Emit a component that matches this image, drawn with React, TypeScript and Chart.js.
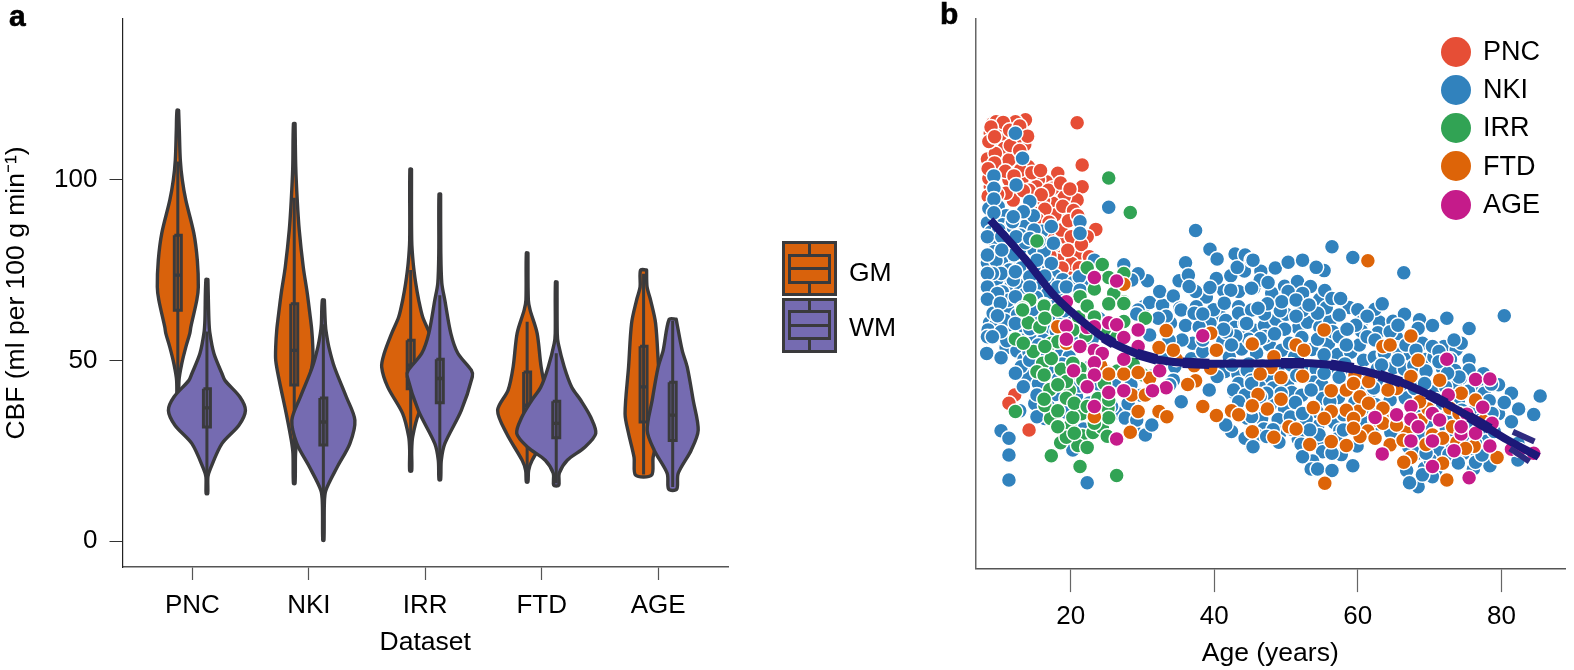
import React, { useEffect, useRef } from "react";
import { Chart, registerables } from "chart.js";

Chart.register(...registerables);

const FONT = "'Liberation Sans', Arial, sans-serif";
const INK = "#3a3a3c";
const GM_COLOR = "#d9620c";
const WM_COLOR = "#756bb1";

const categories = ["PNC", "NKI", "IRR", "FTD", "AGE"];
const matter = ["GM", "WM"];
const yTickValues = [0, 50, 100];
const ageTickValues = [20, 40, 60, 80];

// violin profiles: CBF level and half-width of density
const pncGmCbf = [119.2, 113.7, 105.4, 99.9, 94.3, 85.2, 77.7, 70.3, 66.7, 59.2, 57.5, 53.7, 49.2, 44.5, 36.2];
const pncGmDensity = [0.8, 1.5, 2.5, 4.5, 8, 16, 19.5, 20.5, 19, 13, 12, 8, 4, 1.2, 0.8];
const pncWmCbf = [72.4, 61.1, 57.5, 51.9, 46.4, 44.5, 39.9, 36.2, 32.1, 27, 20.1, 17.8, 13.2];
const pncWmDensity = [1, 2, 3, 7, 15, 18, 33, 38.5, 32, 15, 3.5, 1, 0.8];
const nkiGmCbf = [115.5, 103.5, 94.3, 86, 75.8, 68.6, 62, 58.4, 54, 50, 44.5, 35.3, 28, 24.3, 16];
const nkiGmDensity = [0.8, 1.5, 3, 5, 9, 13, 16, 17.5, 18.5, 18.5, 15, 8, 3, 1.3, 0.8];
const nkiWmCbf = [66.7, 60, 57.5, 53.7, 48.2, 39.9, 33.5, 27, 20.6, 14.1, 10.4, 0.3];
const nkiWmDensity = [1, 2, 3, 5.5, 11, 23, 31.5, 26.5, 14, 2.5, 1, 0.6];
const irrGmCbf = [102.9, 83.3, 76.9, 71.4, 66.7, 62, 57.5, 51.9, 48.2, 42.7, 35.3, 28.9, 25, 19.5];
const irrGmDensity = [0.8, 1, 2.5, 5, 8, 12, 19, 26.5, 29, 23, 8, 2, 1, 1];
const irrWmCbf = [96, 80, 71.4, 66.7, 57.5, 52, 47.3, 45.5, 36.2, 27, 22.4, 17];
const irrWmDensity = [0.8, 1, 2, 5, 11, 18, 31.5, 32.5, 21.5, 5, 1.5, 0.8];
const ftdGmCbf = [79.7, 66.7, 63.9, 57.5, 48.2, 41.8, 36.2, 29.8, 22.4, 19.6, 16.4];
const ftdGmDensity = [0.8, 1.2, 3, 10, 14, 19, 29.5, 20.5, 5, 1.5, 0.8];
const ftdWmCbf = [71.7, 57.5, 54.7, 48.2, 42.6, 39, 34.3, 29.8, 26, 22.4, 18.8, 15.5];
const ftdWmDensity = [0.8, 1, 2, 8, 15.5, 24.5, 34.5, 39.5, 28.5, 11, 3, 2.5];
const ageGmCbf = [75, 70.3, 66.7, 60.3, 48.2, 35.3, 29.8, 23.2, 18.3];
const ageGmDensity = [3, 3.5, 7, 12, 15, 18.5, 15, 9.5, 8];
const ageWmCbf = [61.4, 52.8, 48.2, 39, 30.7, 25.2, 18.8, 14.4];
const ageWmDensity = [3.5, 9.5, 14.5, 20.5, 25.5, 18.5, 5.5, 4];

const gmQ1 = [63.9, 43.2, 42.2, 32.1, 33];
const gmMedian = [73.6, 52.8, 48.7, 37.6, 42.7];
const gmQ3 = [84.6, 65.7, 55.6, 46.8, 53.9];
const gmWhiskerLow = [42, 16, 22, 17, 18.5];
const gmWhiskerHigh = [105, 95, 75, 60.7, 74];
const wmQ1 = [31.6, 26.6, 38.3, 28.6, 27.9];
const wmMedian = [36.9, 33, 45, 32.6, 34.9];
const wmQ3 = [42.2, 39.6, 50.3, 38.7, 44];
const wmWhiskerLow = [16, 7, 20, 16, 15];
const wmWhiskerHigh = [58, 60, 68, 52, 61];

// scatter: [age in years, CBF]
const pncPoints = [
  [13.7,116.5],[20.9,115.7],[9.1,115.5],[9.8,114.2],[12.3,116],[8.8,112.8],[10.2,111],[10.7,108.6],[13.6,109.6],[8.4,105.7],
  [10.4,104],[14.1,103.6],[18.2,101.7],[16.6,99.4],[21.6,104],[21.6,98],[20.9,94.3],[19.1,95.2],[17.5,97.6],[18.4,90.5],
  [17.5,93.4],[15.5,90.7],[23.5,86.2],[19.1,82.8],[20.3,79.1],[18.2,80.5],[19.4,74.5],[15.5,99.9],[13.6,101.7],[12,94.3],
  [8.8,98],[8.6,100.3],[11.4,99.9],[13.2,99.9],[15,87],[22.3,84.2],[21.2,79.6],[12.3,111],[9.5,107.2],[11.4,105.4],
  [13,102.6],[15.2,98],[16.2,94.3],[17.8,90.2],[16.8,84.2],[18.7,86],[20.1,84.2],[18.2,77.7],[20.1,76.8],[12.2,40.4],
  [11.4,38.1],[14.2,30.7],
  [9.6,116],[10.6,115.8],[8.9,114.5],[11.5,113.6],[12.9,114.8],[8.6,110.5],[9.4,111.8],[11.6,109.4],[12.9,108],[14,112],[9.4,104.6],[8.5,103],[10.9,102.3],[12.1,101],
  [14.6,101.9],[15.8,102.5],[16.9,97],[18.6,99],[19.9,97.4],[14.2,97],[15.9,95.8],[18.9,92.6],[20.4,91.4],[16.4,91.8],[15.4,88.9],[17,88.2],[19.7,88.6],[21,90],
  [16.1,82.4],[17.6,81.9],[19.6,80.4],[21.5,82],[17.1,79],[15.8,78],[22.6,78.6],[21.2,75.6],[18.8,75.5],[16.8,76],[13.4,96.9],[11,96.2],[9.8,95.9],[8.5,95.4],
];
const nkiPoints = [
  [8.6,92],[9.9,92.5],[11,90],[10.5,87.5],[8.9,87.3],[11.5,86.5],[13.6,87],[14.8,90],[16,85.7],[9.6,82],[11.3,81.5],[12.9,80.8],[14.9,80.5],[16.3,80.2],
  [8.9,76.9],[10.9,77],[12.4,77.6],[13.8,76.8],[15.7,74.6],[17.8,73.4],[8.8,71.6],[10.9,71.4],[11.6,70.2],[13,70.7],[15.4,70],[16.8,68.5],[18.5,66.8],
  [9.4,64.3],[11.2,64.6],[13.8,62.8],[15,60.3],[16.9,58.6],[18.6,60.9],[20.2,62.4],[21.6,60.3],[8.7,60.4],[9.5,59.6],[11.5,59.9],[12.9,57.8],[14.8,55.2],
  [16.2,55.6],[18,52.5],[19.8,51],[21.3,54.4],[23,55.9],[11,53.5],[12.5,52.6],[13.5,50.2],[15.8,48.4],[17,46.6],[13.9,46.9],[16.7,42],[17.8,40.5],[20.8,40],
  [22.6,38.2],[24.1,36.9],[26.5,35.5],[28,38],[19.3,35.7],[21.8,31],[16,39],[17,37],[12.9,36],[15,38],[14,45.5],
  [8.4,88],[8.9,85.5],[10,86],[11.9,88.3],[13,84.6],[14.9,86],[9.3,80],[11.2,83.2],[12.1,79.2],[13.7,82.5],[15.6,82.9],[17.6,82.4],[8.4,77],[9.6,77.5],[11.5,75],
  [13.1,75.5],[14.9,75.8],[16.8,71.8],[18.9,72.3],[20.4,71.5],[22.4,72],[9.7,72.3],[12,72.2],[13.6,68.2],[15.2,67.4],[10.5,68.9],[8.8,68.2],[11.3,66.6],[13,66.3],
  [17.4,64.7],[19.1,63.7],[9.2,63],[12.6,62.6],[14.7,64],[16.9,61.9],[18,58],[20.4,57.1],[22,57.3],[24,61.5],[10.8,61.1],[8.5,58.4],[11.1,55.4],[13.2,59.6],[14.2,52.2],
  [16.8,51.7],[18.8,49],[20.9,45.3],[22.5,48],[24.6,47.5],[26.1,44.3],[28.4,43.2],[13.1,48.2],[15.5,43.5],[18.3,44.8],[21.2,42.9],[24,43.2],[25.7,37.2],[27.6,34],
  [28.8,31],[23.7,33],[29.8,40.3],[31.2,45.6],[33,50.2],[31,57],[30.2,64.9],[31,66],[32.8,65.2],[33.9,60.3],[36,59.6],[37,54.7],[35.5,55.6],[36.8,50.4],[33.7,55.5],
  [40.7,62.6],[39.4,60.2],[37.9,59.2],[39.9,64],[41.3,69.3],[38.9,67.5],[40.3,72.6],[42.3,73.4],[44.2,74.7],[35.1,72],[42.9,79.4],[36,77],[30.7,72],
  [41.6,61],[42.9,59.1],[44.2,57.6],[45.6,58.3],[47,59.6],[48.6,61.3],[50,62.7],[51.7,58.9],[53,60.5],[54.7,59.2],[56.1,60.7],[41.2,55.3],[43.8,53.1],[45.9,52],
  [47.7,54.2],[49.4,52.8],[51.2,51],[53.6,53],[55.9,54.6],[57.2,51.6],[59,52.2],[60.2,54.2],[42.1,50.9],[44.8,49],[46.7,48.4],[48.9,47.6],[50.7,48.7],[52.7,48.4],
  [54.2,47.6],[56.6,48.2],[58.2,49],[60.8,50],[62.3,50.8],[41.5,46.9],[43.3,46.2],[44.6,47.2],[47.8,44.5],[50.2,43.3],[51.5,45.8],[53.9,44],[55,43.2],[57.4,45.3],
  [59.3,46.9],[61,46.2],[63,45.1],[42.8,41],[44.7,41.6],[46.3,42.7],[48.2,42.3],[50.8,41.1],[52.2,40.3],[55.1,39.4],[57.3,39.7],[59.6,38.4],[61.7,41],[44,37.5],
  [46.1,36.6],[47.8,37.6],[49.8,36.6],[51.3,38.3],[53.8,37],[56.7,32.8],[46.6,33.9],[48.9,33.6],[50.6,34.3],[54.4,31.7],[57.5,30.6],[61,32.9],[44.6,34],[49.2,30],
  [51.7,28.2],[46.9,31],[54.8,27],
  [43.2,75.7],[46.5,74.6],[48.5,75.5],[48,68.6],[49.8,70.5],[51.6,71.8],[53.4,70.4],[50.3,69],[52.3,68.5],[54.7,66.9],[58.8,64.6],[60,64],[47,62.8],[49.2,63.7],[52.3,63.8],
  [55.6,64.5],[56.5,57.9],[49.8,58.6],[52.2,56.3],[47.1,56.6],[44.8,55.8],[43,56.7],[41.7,57.8],[60.5,60.6],[63,60.6],[64.9,60.8],[66.5,62.7],[68.6,61.2],[60.5,58.1],
  [62.8,57.6],[65.4,56.3],[67.8,56.8],[69,54.7],[63.6,51.7],[65.5,53.3],[67.3,51.6],[69.4,50.2],[72,53.8],[73.7,53],[72.9,49],[71.8,47.7],[77.5,46.3],[76.9,42.7],[75.4,41.4],
  [77.6,40.9],[63.5,43.4],[62.2,42.3],[60,41.8],[66.6,39.6],[64.5,39],[62.5,37.7],[60.6,36.4],[58,34.9],[56.1,38.6],[54.3,35.8],[52.8,33.7],[50.8,30.9],[48.2,30.8],[45.9,29.3],
  [49,27.3],[52.1,26.8],[54.6,29.4],[57.1,28.2],[59.9,26.3],[55.1,24.7],[53.7,22.1],[57.7,23.9],[62.6,32.3],[64.7,34.5],[66.9,33],[68,30],[69.6,32.6],[72.3,31.5],[72.5,34.6],
  [74,38.6],[76,35.7],[78,36.3],[79.6,35.2],[76.9,30.6],[74.8,28.2],[72.6,28.7],[71.2,27],[74.7,24.2],[76.1,19.9],[70.9,19.7],[69.3,20.1],[66.8,19.5],
  [63.7,52],[65,48],[66.5,47.5],[67.8,48.5],[69.5,47],[70.6,50.9],[72.9,50.3],[62.7,47.6],[66.1,43.4],[67.9,42.2],[70.5,41.3],[73.5,47.2],[71,39],[68.6,35.8],
  [66,31],[64.6,30],[67.1,26],[69,28.6],[71.3,24.8],[72.7,24],[70.1,22.4],[68.3,24.3],[74,21.6],[76.6,24.4],[77.9,27.6],[73.2,26.8],[75.1,32.5],[77.1,33.5],[78.3,38.8],[79,30.3],
  [12.3,112.8],[13.3,105.9],[9.3,101],[12.4,98.5],[9.3,97.6],[9.3,94.6],[14.3,93.9],[9.3,90.8],[13.4,91.1],[12,89.7],[21.3,88.3],[21.3,85.1],[17.3,87],[25.3,92.3],
  [8.4,84.2],[12.4,84.2],[10.4,84.2],[14.3,83.7],[8.4,79.1],[10.4,80.5],[15.3,77.7],[17.3,76.8],[10.3,74],[9.1,74],[8.4,74],[12.3,74.5],[16.4,73.3],[14.3,73.1],
  [8.4,70.3],[9.8,68.5],[12.3,67.6],[8.4,66.9],[10.2,65.8],[14.3,70.3],[18.2,70.3],[19.4,70.3],[21.2,73.1],[23.3,77.7],[27.4,76.4],[29.4,73.9],[28.5,72.2],[21.3,69.4],
  [32.4,69],[34.3,67.8],[36.4,73.6],[37.4,69],[39.4,70.1],[37.4,85.9],[39.4,80.7],[40.4,78],[44.3,79.1],[45.2,77.7],[43.4,69],[42.3,69.4],[45.5,69.9],[41.4,65.8],
  [36.5,70.4],[29.4,63.9],[35.2,64.4],[37.5,64.8],[43.4,64.8],
  [9.8,62.3],[8.4,56.5],[10.3,57.9],[9.1,56.5],[8.3,51.9],[10.3,50.7],[12.3,60.2],[14.3,58.7],[15.5,54.2],[14.3,50],[12.3,46.4],[13.4,42.7],[15.3,40.4],[16.4,33.9],
  [15.3,34.4],[10.3,30.5],[11.4,28.4],[11.4,23.8],[11.4,16.9],[22.3,16.1],[20.3,25.2],[30.4,29.3],[31.3,32.1],[29.2,33.5],[35.4,38.5],[33.3,62.2],[32.2,61.6],[35.4,63.9],
  [29.2,62.8],[37.2,63],[38.4,62.8],[41.3,58.6],[38.4,52.4],[42.4,54.2],[40.4,45.5],[34.5,48.2],[39.3,41.8],[38.4,55.6],[43.4,63],[44.3,60.2],[45.2,63.9],[42.5,48.7],
  [43.4,43.6],[42.7,41.8],[44.3,40.4],[43.4,38.5],[45.2,44.5],[42.4,30.3],[41.6,32.1],[45.2,26.1],[44.3,28.4],[34.3,44.5],[33.8,43.2],
  [56.4,81.4],[59.3,78.4],[66.4,74.2],[80.4,62.3],[45.4,77.7],[50.3,77.1],[52.3,77.7],[55.3,74.8],[54.2,75.7],[46.4,72.2],[47.5,71.5],[45.2,69.9],[55.4,69.3],[56.4,67.1],
  [57.6,67.1],[62.4,64.1],[63.4,65.6],[61.3,62.2],[72.4,61.6],[70.4,59.6],[75.5,58.8],[74.4,54.7],[73.4,55.6],[49.4,66.2],[51.4,66.7],[47.4,65.6],[51.4,62.2],[54.4,63],
  [57.4,62.5],[53.2,65.3],[46.1,64.4],[44.5,60.2],[48.4,57.3],[46.4,56],[50.5,54.7],[54.4,55.8],[57.4,56.5],[58.4,54.2],[59.7,59.7],[58.5,58.6],[61.3,56.5],[62.4,55.6],
  [64.5,57.9],[65.6,59.7],[68.4,58.8],[66.7,54.2],[68.1,52.8],[70.4,53.8],[71.3,52.4],[71.3,49.6],[75.5,50.1],[75.5,47.3],[74.3,45],[79.6,43.2],[78.6,43.4],[81.4,40.9],
  [85.4,40.1],[80.4,38.3],[82.4,36.5],[84.5,35],[81.4,33],[82.3,27],[82.3,22.4],[78.4,20.8],[76.4,21.8],[77.3,23.8],[78.7,35.3],[55.3,51.5],[55.3,46.4],[53.5,41.8],
  [52.3,35.3],[49.3,40.9],[47.3,40.9],[45.2,43.6],[45.2,34.4],[46.4,39.9],[63.3,48.7],[64.5,42.7],[65.6,50.1],[69.3,43.6],[69.5,24.3],[70.4,17.8],[68.4,15],[67.2,16.1],
  [69,18.3],[45.4,26.1],[47.3,28.9],[53.3,30.7],[52.3,23.3],[53.5,19.9],[54.4,19.9],[56.4,19.5],[56.4,24.3],[59.3,20.8],[58,30.7],[71.8,38.1],[74.5,36.2],[73.6,42.7],
  [76.4,27],[72.2,42.7],[74.1,45.4],[72.5,46.4],
];
const irrPoints = [
  [14.1,60.4],[15.7,59.2],[18.8,58.3],[21.1,62],[22.1,56.8],[24.7,57.6],[26.4,56.3],[14.8,52.4],[16.1,49.2],[18.7,47.5],[21.3,47.7],[19.8,41.7],[21.7,44.5],[24.7,43.5],
  [26.5,47],[28.7,48.9],[17.1,41.9],[21.5,35.2],[23.8,39.4],[25.2,36.7],[19.9,31.8],[21.6,29.1],[17.2,33.9],[23.1,30],[24.4,31.4],[21,26.4],[18.6,27.2],[16.4,37.5],
  [25.3,100.4],[28.3,90.9],[15.3,83],[22.3,75.6],[24.4,76.5],[27.4,74],[25.3,72.9],[23.3,69.7],[21.3,67.6],[14.3,66.7],[16.3,65.3],[13.3,64.4],[22.3,64.8],[25.3,65.8],
  [27.4,66.2],[26,68.5],[13.3,63.9],[16.3,65],[16.4,61.6],[12.3,55.9],[13.4,54.7],[22.3,65],[25.3,65.6],[27.4,65.7],[30.4,61.6],[17.3,54.7],[18.2,55.1],[17.3,50.5],
  [15.3,46.8],[16.3,45.9],[20.3,49.2],[19.4,44.1],[18.2,43.2],[16.3,39.2],[19.4,39.5],[18.2,36],[20.3,34.2],[19.4,28.7],[18.2,31.6],[20.5,29.8],[23.3,32.6],[25.3,34.1],
  [25.1,29],[22.3,25.9],[12.3,35.8],[17.3,23.6],[21.3,20.6],[26.4,18.1],[25.3,39],[20.5,38.1],[22.3,37.2],[30.1,45.9],[18.2,63.9],[20.3,58.4],[23.3,62],[27.4,60.7],[16.4,53.8],
];
const ftdPoints = [
  [24.2,48.4],[31,45],[34.7,50.3],[37.2,48.5],[46.1,40.5],[47.9,48],[53.8,36.9],[59.6,45.9],[60.2,36],[62.4,33.5],[64.2,35.2],[66.9,30.2],[68.8,33.5],[69.8,36.5],[72.8,36.8],
  [73.8,27.3],[77.5,33.1],[76.2,26.2],[69.5,26.7],
  [33.3,58.2],[32.3,53.5],[34.3,52.8],[39.5,57.5],[40.3,52.8],[25.3,46.2],[27.4,46.2],[29.4,46.6],[37.4,44.3],[36.3,43.3],[28.5,40.4],[30.4,40.4],[29.4,35.8],[32.3,35.8],
  [33.4,34.4],[38.4,37.2],[40.3,34.7],[42.4,36],[43.4,34.9],[28.3,30.1],[23.3,34.4],[18.2,59.3],[19.4,54.7],[45.2,54.7],[45.2,37.2],[45.2,30.3],[39.5,47.8],[27.4,71],
  [61.4,77.5],[55.3,58.4],[67.4,56.7],[63.5,53.8],[64.5,54.2],[45.3,54.5],[51.4,54.2],[52.5,52.8],[48.3,51],[68.4,50],[46.4,46.2],[49.3,45.2],[52.3,45.6],[67.4,45.5],
  [71.4,44.5],[61.5,44.1],[56.3,41.6],[58.4,41.8],[59.4,43.6],[60.3,39.9],[65.4,42.2],[64.2,41.8],[74.4,40.9],[76.4,39],[49.3,39.2],[45.3,37.4],[47.4,36.5],[56.3,35.8],
  [55.3,33.9],[58.4,36.2],[59.4,33.9],[61.5,38.1],[63.5,36.7],[68.6,38.5],[50.4,31.6],[51.4,31],[45.3,30.2],[48.3,28.7],[53.3,26.7],[56.3,27.5],[58.4,26.4],[61.4,30.4],
  [60.3,28.9],[62.4,28.4],[59.4,31.2],[63.5,32.6],[64.5,26.6],[66.3,27.9],[70.4,29.3],[71.8,28.4],[73.2,31.6],[74.1,35.3],[75,25.6],[67.4,23.1],[66.4,21.8],[71.8,21.5],
  [72.4,16.9],[79.4,23.1],[55.4,16],[65.4,32.1],
];
const agePoints = [
  [23.3,72.9],[26.4,71.9],[19.4,66.2],[19.4,59.5],[19.4,55.8],[22.3,59.1],[23.3,59.3],[25.3,60.4],[26.4,59.8],[29.4,58.4],[27.4,56.3],[29.4,53.8],[21.3,53.8],[23.3,52.8],
  [24.4,51.9],[27.4,50.3],[23.3,49.3],[20.4,47.1],[23.3,45.9],[32.4,47.1],[33.3,42.4],[22.3,42.7],[25.3,41.1],[27.4,41.6],[31.4,41.6],[23.3,37.2],[26.4,28.2],[38.4,56.8],
  [72.4,50.3],[76.4,44.7],[78.4,44.8],[72.6,40.4],[77.4,37],[67.4,37.2],[62.4,34.2],[65.4,34.9],[67.4,33.7],[70.4,35.3],[71.4,33.5],[68.4,31.6],[75.2,35.1],[74.4,29.6],
  [76.4,29.8],[78.7,32.6],[67.4,27.7],[70.4,27.7],[73.4,25],[78.4,26.3],[81.4,25.4],[82.5,25.2],[84.5,24.3],[63.4,24.1],[70.4,20.6],[75.5,17.5],[74.4,31.6],
];
const fitLine = [
  [8.8,88.8],[13.6,78.1],[17.8,67.7],[21.9,60.3],[25.1,55.6],[29.2,51.8],[31.9,50.2],[36.5,49.2],[45.7,49.1],[53.5,49.2],[58,48.2],[64.5,45],[70,40.4],[76.3,33.5],[80.9,27.9],[85.2,23.3],
];
const fitBandSegments = [
  [[24.6,56.3],[26,54.6]],
  [[29.2,51.8],[32,50.2]],
  [[35.6,49.3],[39.3,49]],
  [[49.3,49.2],[52.5,49.2]],
  [[56.2,48.8],[59.4,47.8]],
  [[63,45.9],[66,43.9]],
  [[69.7,40.7],[72.3,38]],
  [[75.5,34.4],[78.4,31]],
];
const ciUpper = [[81.6,30.2],[84.6,27.5]];
const ciLower = [[81.2,25.6],[83.9,22]];

const violinProfiles = [
  [pncGmCbf, pncGmDensity, pncWmCbf, pncWmDensity],
  [nkiGmCbf, nkiGmDensity, nkiWmCbf, nkiWmDensity],
  [irrGmCbf, irrGmDensity, irrWmCbf, irrWmDensity],
  [ftdGmCbf, ftdGmDensity, ftdWmCbf, ftdWmDensity],
  [ageGmCbf, ageGmDensity, ageWmCbf, ageWmDensity],
];

const scatterSeries = [
  { name: "PNC", color: "#e64e36", points: pncPoints },
  { name: "NKI", color: "#3182bd", points: nkiPoints },
  { name: "IRR", color: "#31a354", points: irrPoints },
  { name: "FTD", color: "#dd6408", points: ftdPoints },
  { name: "AGE", color: "#c51b8a", points: agePoints },
];

const xy = (p: number[]) => ({ x: p[0], y: p[1] });

function buildViolinDatasets() {
  const out: any[] = [];
  const toX = 1 / 116.4;
  const offset = 0.125;
  const boxHalf = 0.03;
  const line = (data: any[], width: number) => ({
    data, showLine: true, fill: false, borderColor: INK, borderWidth: width, pointRadius: 0, tension: 0, borderJoinStyle: "miter", borderCapStyle: "butt",
  });
  violinProfiles.forEach((profile, i) => {
    for (let k = 0; k < 2; k++) {
      const cbf = profile[k * 2];
      const dens = profile[k * 2 + 1];
      const cx = i + (k === 0 ? -offset : offset);
      const right = cbf.map((v, j) => ({ x: cx + dens[j] * toX, y: v }));
      const left = cbf.map((v, j) => ({ x: cx - dens[j] * toX, y: v })).reverse();
      out.push({
        data: [...right, ...left, right[0]],
        violinFill: k === 0 ? GM_COLOR : WM_COLOR,
        showLine: true, fill: false, borderColor: INK, borderWidth: 3.4, pointRadius: 0, tension: 0.3,
        borderJoinStyle: "round", borderCapStyle: "round",
      });
      const q1 = (k === 0 ? gmQ1 : wmQ1)[i];
      const med = (k === 0 ? gmMedian : wmMedian)[i];
      const q3 = (k === 0 ? gmQ3 : wmQ3)[i];
      const lo = (k === 0 ? gmWhiskerLow : wmWhiskerLow)[i];
      const hi = (k === 0 ? gmWhiskerHigh : wmWhiskerHigh)[i];
      out.push(line([{ x: cx, y: lo }, { x: cx, y: hi }], 3));
      out.push(line([
        { x: cx - boxHalf, y: q3 }, { x: cx + boxHalf, y: q3 }, { x: cx + boxHalf, y: q1 }, { x: cx - boxHalf, y: q1 }, { x: cx - boxHalf, y: q3 },
      ], 3));
      out.push(line([{ x: cx - boxHalf, y: med }, { x: cx + boxHalf, y: med }], 3.4));
    }
  });
  out.forEach((d, i) => (d.order = out.length - i));
  return out;
}

function buildScatterDatasets() {
  const out: any[] = scatterSeries.map((s) => ({
    label: s.name,
    data: s.points.map(xy),
    backgroundColor: s.color,
    borderColor: "#ffffff",
    borderWidth: 1.5,
    pointRadius: 7.5,
    pointHoverRadius: 7.5,
    showLine: false,
  }));
  const navy = "#1c1878";
  const curve = (data: any[], width: number, color: string, tension: number) => ({
    data, showLine: true, fill: false, borderColor: color, borderWidth: width, pointRadius: 0, tension, borderCapStyle: "butt",
  });
  fitBandSegments.forEach((seg) => out.push(curve(seg.map(xy), 10.5, navy, 0)));
  out.push(curve(fitLine.map(xy), 8, navy, 0.35));
  out.push(curve(ciUpper.map(xy), 6, "#2f2a80", 0));
  out.push(curve(ciLower.map(xy), 6, "#2f2a80", 0));
  out.forEach((d, i) => (d.order = out.length - i));
  return out;
}

const violinFillPlugin = {
  id: "violinFill",
  beforeDatasetDraw(chart: any, args: any) {
    const ds = chart.data.datasets[args.index];
    if (!ds.violinFill) return;
    const ctx = chart.ctx;
    ctx.save();
    ctx.beginPath();
    args.meta.dataset.path(ctx);
    ctx.closePath();
    ctx.fillStyle = ds.violinFill;
    ctx.fill();
    ctx.restore();
  },
};

const tickFont = { family: FONT, size: 26 };
const titleFont = { family: FONT, size: 26.5 };
const BASE: any = {
  animation: false,
  responsive: false,
  maintainAspectRatio: false,
  events: [],
  plugins: { legend: { display: false }, tooltip: { enabled: false } },
};

const noMargins = (s: any) => {
  s.paddingTop = 0;
  s.paddingBottom = 0;
  s.paddingLeft = 0;
  s.paddingRight = 0;
};

function GlyphLegend() {
  const colors = [GM_COLOR, WM_COLOR];
  return (
    <>
      {matter.map((name, i) => (
        <React.Fragment key={name}>
          <div style={{ position: "absolute", left: 782, top: 241 + i * 56.8, width: 55, height: 55, boxSizing: "border-box", background: colors[i], border: `3px solid ${INK}` }}>
            <div style={{ position: "absolute", left: 23, top: 0, width: 3, height: 49, background: INK }} />
            <div style={{ position: "absolute", left: 3, top: 9.5, width: 43, height: 30, boxSizing: "border-box", background: colors[i], border: `3px solid ${INK}` }}>
              <div style={{ position: "absolute", left: 0, top: 10.5, width: 37, height: 3, background: INK }} />
            </div>
          </div>
          <div style={{ position: "absolute", left: 849, top: 257 + i * 55, font: `26.5px ${FONT}`, lineHeight: "30px", color: "#000" }}>{name}</div>
        </React.Fragment>
      ))}
    </>
  );
}

function DotLegend() {
  return (
    <>
      {scatterSeries.map((s, i) => (
        <React.Fragment key={s.name}>
          <div style={{ position: "absolute", left: 1441.3, top: 36.7 + i * 38.2, width: 30, height: 30, borderRadius: "50%", background: s.color }} />
          <div style={{ position: "absolute", left: 1483, top: 36 + i * 38.2, font: `27px ${FONT}`, lineHeight: "31px", color: "#000" }}>{s.name}</div>
        </React.Fragment>
      ))}
    </>
  );
}

export default function App() {
  const leftRef = useRef<HTMLCanvasElement>(null);
  const rightRef = useRef<HTMLCanvasElement>(null);

  useEffect(() => {
    const left = new Chart(leftRef.current as any, {
      type: "scatter",
      data: { datasets: buildViolinDatasets() },
      plugins: [violinFillPlugin],
      options: {
        ...BASE,
        layout: { padding: { top: 19, right: 32, left: 0, bottom: 0 } },
        scales: {
          x: {
            type: "linear", min: -0.6, max: 4.6,
            afterFit: (s: any) => { s.height = 103; noMargins(s); },
            afterBuildTicks: (s: any) => { s.ticks = categories.map((_, i) => ({ value: i })); },
            ticks: { callback: (v: any) => categories[v], font: tickFont, color: "#000", padding: 10, maxRotation: 0, autoSkip: false },
            grid: { drawOnChartArea: false, drawTicks: true, tickLength: 13, tickColor: "#555", tickWidth: 1.2 },
            border: { color: "#555", width: 1.5 },
            title: { display: true, text: "Dataset", font: titleFont, color: "#000", padding: { top: 0, bottom: 11 } },
          },
          y: {
            type: "linear", min: -7.1, max: 144.4,
            afterFit: (s: any) => { s.width = 122.5; noMargins(s); },
            afterBuildTicks: (s: any) => { s.ticks = yTickValues.map((v) => ({ value: v })); },
            ticks: { font: tickFont, color: "#000", padding: 12, autoSkip: false },
            grid: { drawOnChartArea: false, drawTicks: true, tickLength: 13, tickColor: "#333", tickWidth: 1 },
            border: { color: "#222", width: 1.2 },
            title: { display: true, text: "CBF (ml per 100 g min⁻¹)", font: titleFont, color: "#000", padding: { top: 1, bottom: 0 } },
          },
        },
      },
    } as any);

    const right = new Chart(rightRef.current as any, {
      type: "scatter",
      data: { datasets: buildScatterDatasets() },
      options: {
        ...BASE,
        layout: { padding: { top: 19, right: 0, left: 0, bottom: 0 } },
        scales: {
          x: {
            type: "linear", min: 6.74, max: 88.86,
            afterFit: (s: any) => { s.height = 101.4; noMargins(s); },
            afterBuildTicks: (s: any) => { s.ticks = ageTickValues.map((v) => ({ value: v })); },
            ticks: { font: tickFont, color: "#000", padding: 9, maxRotation: 0, autoSkip: false },
            grid: { drawOnChartArea: false, drawTicks: true, tickLength: 23.5, tickColor: "#666", tickWidth: 1.2 },
            border: { color: "#555", width: 1.5 },
            title: { display: true, text: "Age (years)", font: titleFont, color: "#000", padding: { top: 0, bottom: 0 } },
          },
          y: {
            type: "linear", min: -7.63, max: 144.4,
            afterFit: (s: any) => { s.width = 95.5; noMargins(s); },
            ticks: { display: false },
            grid: { drawOnChartArea: false, drawTicks: false },
            border: { color: "#666", width: 1.5 },
          },
        },
      },
    } as any);

    return () => {
      left.destroy();
      right.destroy();
    };
  }, []);

  return (
    <div style={{ position: "fixed", left: 0, top: 0, width: 1574, height: 670, background: "#fff", overflow: "hidden" }}>
      <canvas ref={leftRef} width={760} height={670} style={{ position: "absolute", left: 0, top: 0, width: 760, height: 670 }} />
      <canvas ref={rightRef} width={694} height={670} style={{ position: "absolute", left: 880, top: 0, width: 694, height: 670 }} />
      <div style={{ position: "absolute", left: 9, top: -2, font: `bold 30px ${FONT}`, lineHeight: "36px", color: "#000", WebkitTextStroke: "0.6px #000" }}>a</div>
      <div style={{ position: "absolute", left: 940, top: -4, font: `bold 30px ${FONT}`, lineHeight: "36px", color: "#000", WebkitTextStroke: "0.6px #000" }}>b</div>
      <GlyphLegend />
      <DotLegend />
    </div>
  );
}
